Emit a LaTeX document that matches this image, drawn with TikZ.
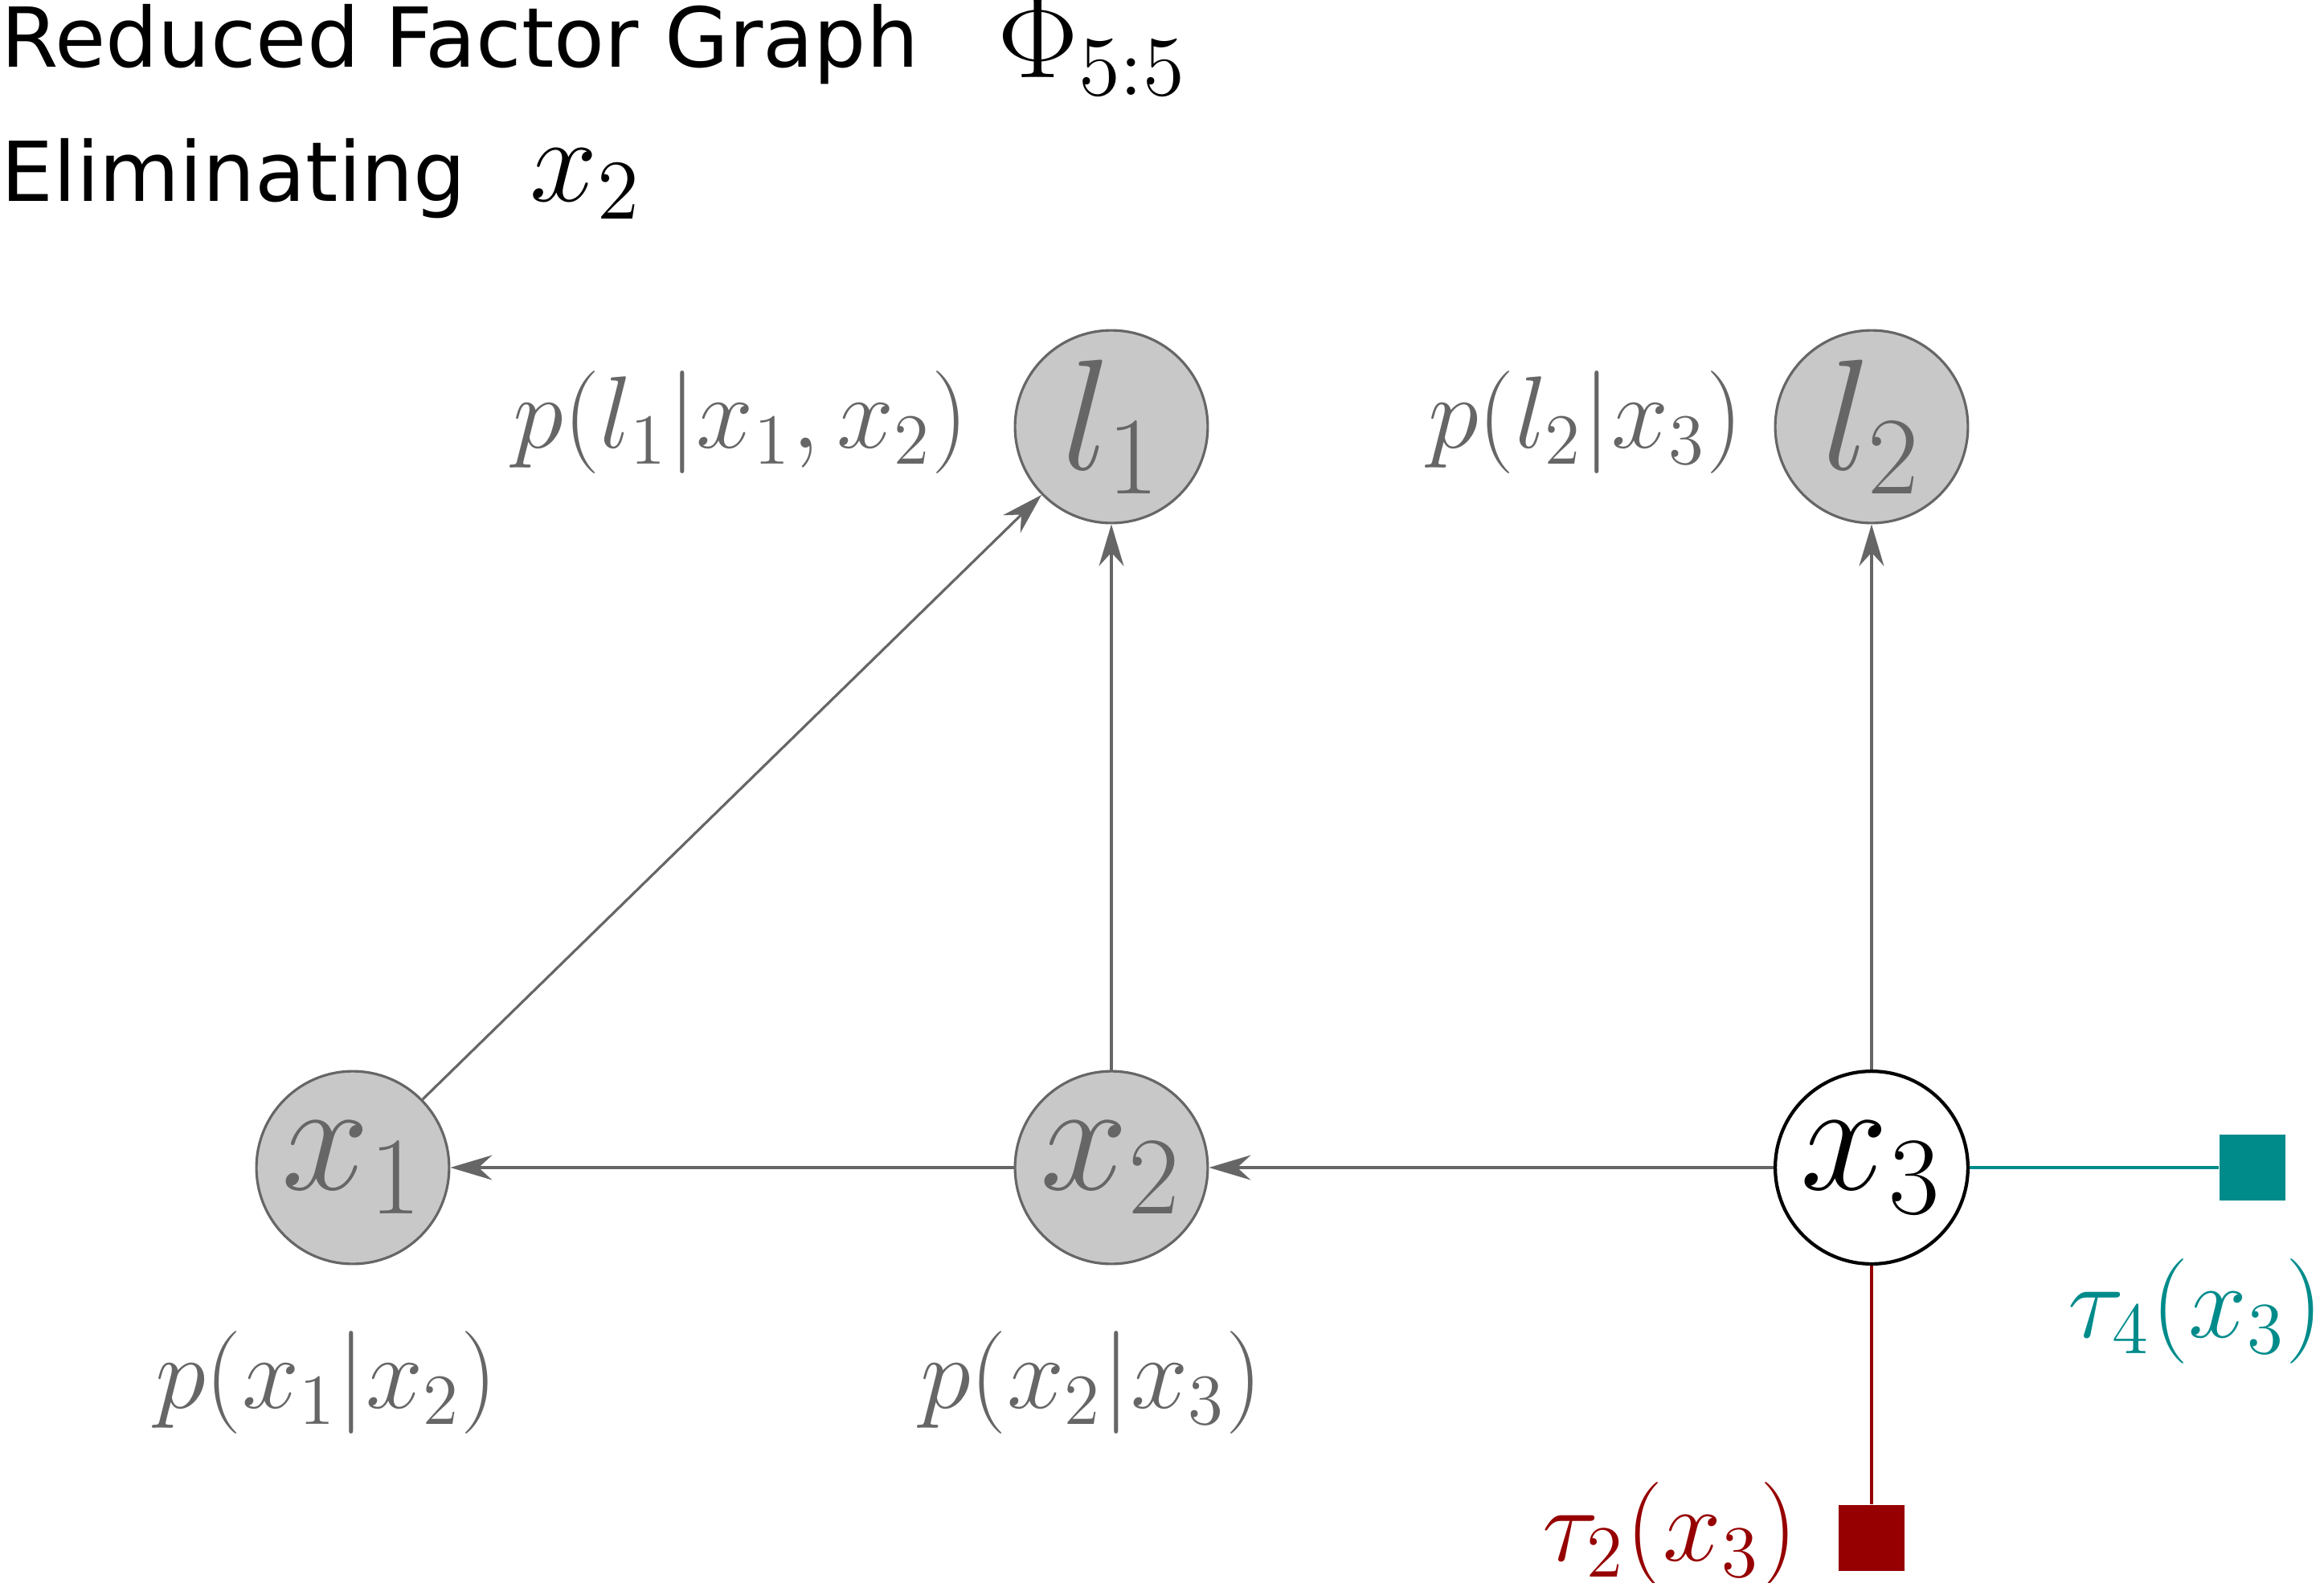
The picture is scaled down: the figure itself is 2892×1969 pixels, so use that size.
\RequirePackage{fix-cm}
\documentclass[tikz,border=0pt]{standalone}
\usepackage{fontspec}
\usepackage{amsmath,amssymb}
\usepackage{tikz}
\usetikzlibrary{arrows.meta,positioning}
\newfontfamily\titlefont{DejaVu Sans}
\definecolor{graydark}{HTML}{666666}
\definecolor{graylight}{HTML}{C8C8C8}
\definecolor{factorteal}{HTML}{008B8B}
\definecolor{factorred}{HTML}{960000}
\tikzset{
  titletext/.style={inner sep=0pt, anchor=base west, font=\titlefont\fontsize{14.65}{17}\selectfont},
  titlemath/.style={inner sep=0pt, anchor=base west, font=\fontsize{21.5}{25}\selectfont},
  varnode/.style={circle, draw=graydark, fill=graylight, text=graydark, minimum size=1.2cm, inner sep=0pt, line width=0.45pt, font=\fontsize{28}{31}\selectfont},
  freenode/.style={varnode, draw=black, fill=white, text=black, line width=0.6pt},
  condarrow/.style={graydark, -{Stealth[length=7.4pt,width=4.4pt,inset=2.4pt]}, line width=0.45pt},
  factorbox/.style={rectangle, minimum size=0.41cm, inner sep=0pt},
  condlabel/.style={text=graydark, inner sep=0pt, font=\fontsize{18.2}{21}\selectfont},
  factorlabel/.style={inner sep=0pt, font=\fontsize{18.6}{21}\selectfont}
}
\begin{document}
\begin{tikzpicture}[x=0.005cm, y=-0.005cm]
  \useasboundingbox (0,0) rectangle (2892,1969);
  \node[titletext] (title) at (0,83) {Reduced Factor Graph};
  \node[titlemath] (phi) at (1240,96) {$\Phi_{5:5}$};
  \node[titletext] (elim) at (0,250) {Eliminating};
  \node[titlemath] (elimvar) at (658,250) {$x_2$};

  \node[varnode] (l1) at (1383,531) {$l_1$};
  \node[varnode] (l2) at (2329,531) {$l_2$};
  \node[varnode] (x1) at (439,1453) {$x_1$};
  \node[varnode] (x2) at (1383,1453) {$x_2$};
  \node[freenode] (x3) at (2329,1453) {$x_3$};
  \node[factorbox, fill=factorteal] (t4) at (2803,1453) {};
  \node[factorbox, fill=factorred] (t2) at (2329,1914) {};

  \draw[condarrow] (x2) -- (x1);
  \draw[condarrow] (x3) -- (x2);
  \draw[condarrow] (x1) -- (l1);
  \draw[condarrow] (x2) -- (l1);
  \draw[condarrow] (x3) -- (l2);
  \draw[factorteal, line width=0.45pt] (x3) -- (t4);
  \draw[factorred, line width=0.45pt] (x3) -- (t2);

  \node[condlabel] (pl1) at (922,526) {$p(l_1|x_1,x_2)$};
  \node[condlabel] (pl2) at (1973,526) {$p(l_2|x_3)$};
  \node[condlabel] (px1) at (406,1721) {$p(x_1|x_2)$};
  \node[condlabel] (px2) at (1358,1721) {$p(x_2|x_3)$};
  \node[factorlabel, text=factorteal, anchor=east] (tau4) at (2892,1632) {$\tau_4(x_3)$};
  \node[factorlabel, text=factorred] (tau2) at (2078,1910) {$\tau_2(x_3)$};
\end{tikzpicture}
\end{document}
